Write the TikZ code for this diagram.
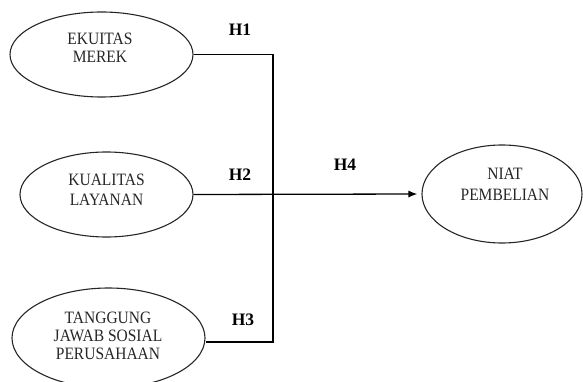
\documentclass[tikz,border=0pt]{standalone}
\usepackage{fontspec}
\setmainfont{Liberation Serif}
\usetikzlibrary{shapes.geometric,arrows.meta}
\newcommand{\tline}[1]{\scalebox{1}[1.12]{#1}}
\tikzset{
  oval/.style={ellipse,draw=black!85,line width=1.1pt,inner sep=0pt},
  ovaltext/.style={align=center,inner sep=0pt,text=black!85,font=\fontsize{15.5}{#1}\selectfont},
  hlabel/.style={font=\fontsize{17.5}{19}\selectfont\bfseries,inner sep=0pt},
  conn/.style={line width=1.3pt,black},
}
\begin{document}
\begin{tikzpicture}[x=1pt,y=-1pt]
\useasboundingbox (0,0) rectangle (583,382);
\clip (0,0) rectangle (583,382);
\node[oval,minimum width=183pt,minimum height=85pt] (e1) at (101.5,54.5) {};
\node[oval,minimum width=173pt,minimum height=85pt] (e2) at (106.5,194.5) {};
\node[oval,minimum width=193pt,minimum height=100pt] (e3) at (108.5,338) {};
\node[oval,minimum width=160pt,minimum height=98pt] (e4) at (502,194) {};
\node[ovaltext=18.5pt] (t1) at (100,48) {\tline{EKUITAS}\\\tline{MEREK}};
\node[ovaltext=20.5pt] (t2) at (106.5,190) {\tline{KUALITAS}\\\tline{LAYANAN}};
\node[ovaltext=18pt] (t3) at (108,336) {\tline{TANGGUNG}\\\tline{JAWAB SOSIAL}\\\tline{PERUSAHAAN}};
\node[ovaltext=21.5pt] (t4) at (505,184.5) {\tline{NIAT}\\\tline{PEMBELIAN}};
\node[hlabel] (h1) at (240,30) {H1};
\node[hlabel] (h2) at (240,175) {H2};
\node[hlabel] (h3) at (243,320) {H3};
\node[hlabel] (h4) at (345,165) {H4};
\coordinate (bot) at (273,342);
\draw[conn] (e1.east) -| (bot) -- (bot -| e3.east);
\draw[conn,-{Latex[length=9pt,width=7pt]},shorten >=4pt] (e2.east) -- (e4.west);
\end{tikzpicture}
\end{document}
